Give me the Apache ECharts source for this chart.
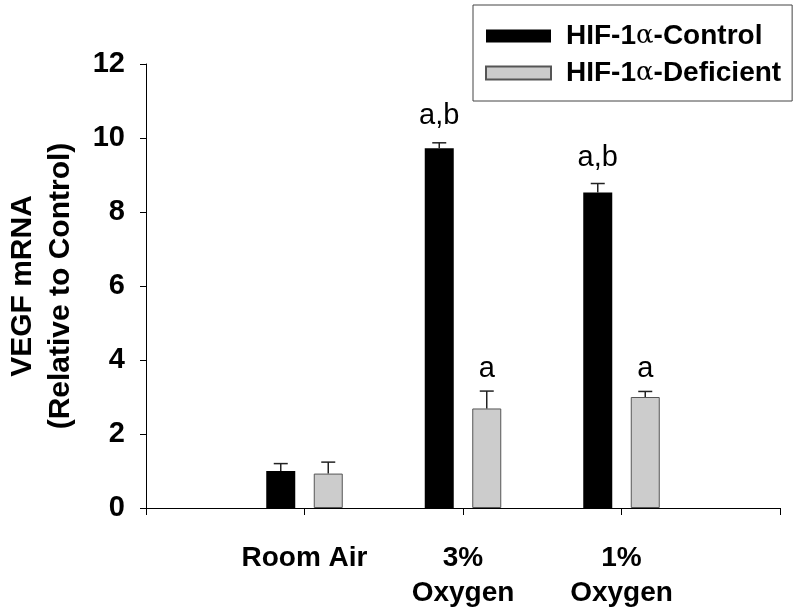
<!DOCTYPE html>
<html>
<head>
<meta charset="utf-8">
<script src="https://cdn.jsdelivr.net/npm/echarts@6/dist/echarts.min.js"></script>
<style>
html,body{margin:0;padding:0;background:#fff;}
#chart{width:800px;height:611px;}
</style>
</head>
<body>
<div id="chart"></div>
<script>
// ---- data ----
var categories = ['Room Air', '3%\nOxygen', '1%\nOxygen'];
var seriesNames = ['HIF-1\u03b1-Control', 'HIF-1\u03b1-Deficient'];
var controlValues = [1.0, 9.72, 8.53];
var controlErrors = [0.2, 0.15, 0.24];
var deficientValues = [0.93, 2.69, 3.0];
var deficientErrors = [0.31, 0.47, 0.15];
// annotation text and its vertical centre (in axis units)
var controlNotes = ['', 'a,b', 'a,b'];
var controlNoteY = [null, 10.6, 9.46];
var deficientNotes = ['', 'a', 'a'];
var deficientNoteY = [null, 3.75, 3.75];
var yTicks = [0, 2, 4, 6, 8, 10, 12];

// ---- build ----
var axisData = [''].concat(categories).concat(['']);
function pad(arr) { return ['-'].concat(arr).concat(['-']); }

var BAR_W = 29, BAR_GAP = 18.5;
var HALF = (BAR_W + BAR_GAP) / 2;

function errData(vals, errs) {
  return vals.map(function (v, i) { return [i + 1, v, errs[i]]; });
}
function noteData(notes, ys) {
  var out = [];
  notes.forEach(function (t, i) { if (t) out.push({ value: [i + 1, ys[i]], text: t }); });
  return out;
}

function errRender(offset) {
  return function (params, api) {
    var idx = api.value(0), v = api.value(1), e = api.value(2);
    var p0 = api.coord([idx, v]);
    var p1 = api.coord([idx, v + e]);
    var x = p0[0] + offset;
    var st = { stroke: '#222', lineWidth: 1.5 };
    return {
      type: 'group',
      children: [
        { type: 'line', shape: { x1: x, y1: p0[1], x2: x, y2: p1[1] }, style: st },
        { type: 'line', shape: { x1: x - 7, y1: p1[1], x2: x + 7, y2: p1[1] }, style: st }
      ]
    };
  };
}
function noteRender(offset, data) {
  return function (params, api) {
    var p = api.coord([api.value(0), api.value(1)]);
    return {
      type: 'text',
      x: p[0] + offset, y: p[1],
      style: {
        text: data[params.dataIndex].text,
        align: 'center', verticalAlign: 'middle',
        font: 'normal 29px "Liberation Sans", Arial, sans-serif',
        fill: '#000'
      }
    };
  };
}

var cNotes = noteData(controlNotes, controlNoteY);
var dNotes = noteData(deficientNotes, deficientNoteY);

var FONT = '"Liberation Sans", Arial, sans-serif';
var chart = echarts.init(document.getElementById('chart'), null, { renderer: 'canvas' });

chart.setOption({
  backgroundColor: '#fff',
  animation: false,
  grid: { left: 146, right: 20, top: 64, bottom: 103, containLabel: false, outerBoundsMode: 'none' },
  legend: {
    orient: 'vertical',
    left: 473, top: 5,
    data: seriesNames,
    icon: 'rect',
    itemWidth: 65, itemHeight: 13,
    itemGap: 9,
    padding: [17, 11, 14, 12],
    borderColor: '#444', borderWidth: 1,
    backgroundColor: '#fff',
    formatter: function (name) {
      var parts = name.split('\u03b1');
      return '{b|' + parts[0] + '}{a|\u03b1}{b|' + parts[1] + '}';
    },
    textStyle: {
      padding: [0, 0, 0, 10],
      rich: {
        b: { fontFamily: FONT, fontWeight: 'bold', fontSize: 28, color: '#000', lineHeight: 28 },
        a: { fontFamily: '"DejaVu Serif", serif', fontWeight: 'normal', fontSize: 26, color: '#000', lineHeight: 28 }
      }
    }
  },
  xAxis: {
    type: 'category',
    data: axisData,
    boundaryGap: false,
    axisLine: { show: true, lineStyle: { color: '#000', width: 1 } },
    axisTick: { show: true, length: 7, lineStyle: { color: '#000' } },
    axisLabel: {
      interval: 0,
      margin: 33,
      fontFamily: FONT, fontWeight: 'bold', fontSize: 28, color: '#000',
      lineHeight: 35
    },
    splitLine: { show: false }
  },
  yAxis: {
    type: 'value',
    min: yTicks[0], max: yTicks[yTicks.length - 1], interval: 2,
    name: 'VEGF mRNA\n(Relative to Control)',
    nameLocation: 'middle',
    nameGap: 66,
    nameTextStyle: { fontFamily: FONT, fontWeight: 'bold', fontSize: 30, color: '#000', lineHeight: 38 },
    axisLine: { show: true, lineStyle: { color: '#000', width: 1 } },
    axisTick: { show: true, inside: false, length: 6, lineStyle: { color: '#000' } },
    axisLabel: { margin: 21, fontFamily: FONT, fontWeight: 'bold', fontSize: 29, color: '#000' },
    splitLine: { show: false }
  },
  series: [
    {
      name: seriesNames[0], type: 'bar',
      data: pad(controlValues),
      barWidth: BAR_W, barGap: (BAR_GAP / BAR_W * 100) + '%',
      itemStyle: { color: '#000', borderColor: '#000', borderWidth: 0 }
    },
    {
      name: seriesNames[1], type: 'bar',
      data: pad(deficientValues),
      barWidth: BAR_W,
      itemStyle: { color: '#cccccc', borderColor: '#555', borderWidth: 1 }
    },
    {
      type: 'custom', name: 'errC', z: 3,
      data: errData(controlValues, controlErrors),
      renderItem: errRender(-HALF), silent: true
    },
    {
      type: 'custom', name: 'errD', z: 3,
      data: errData(deficientValues, deficientErrors),
      renderItem: errRender(HALF), silent: true
    },
    {
      type: 'custom', name: 'noteC', z: 4,
      data: cNotes.map(function (d) { return d.value; }),
      renderItem: noteRender(-HALF, cNotes), silent: true
    },
    {
      type: 'custom', name: 'noteD', z: 4,
      data: dNotes.map(function (d) { return d.value; }),
      renderItem: noteRender(HALF, dNotes), silent: true
    }
  ]
});
</script>
</body>
</html>
